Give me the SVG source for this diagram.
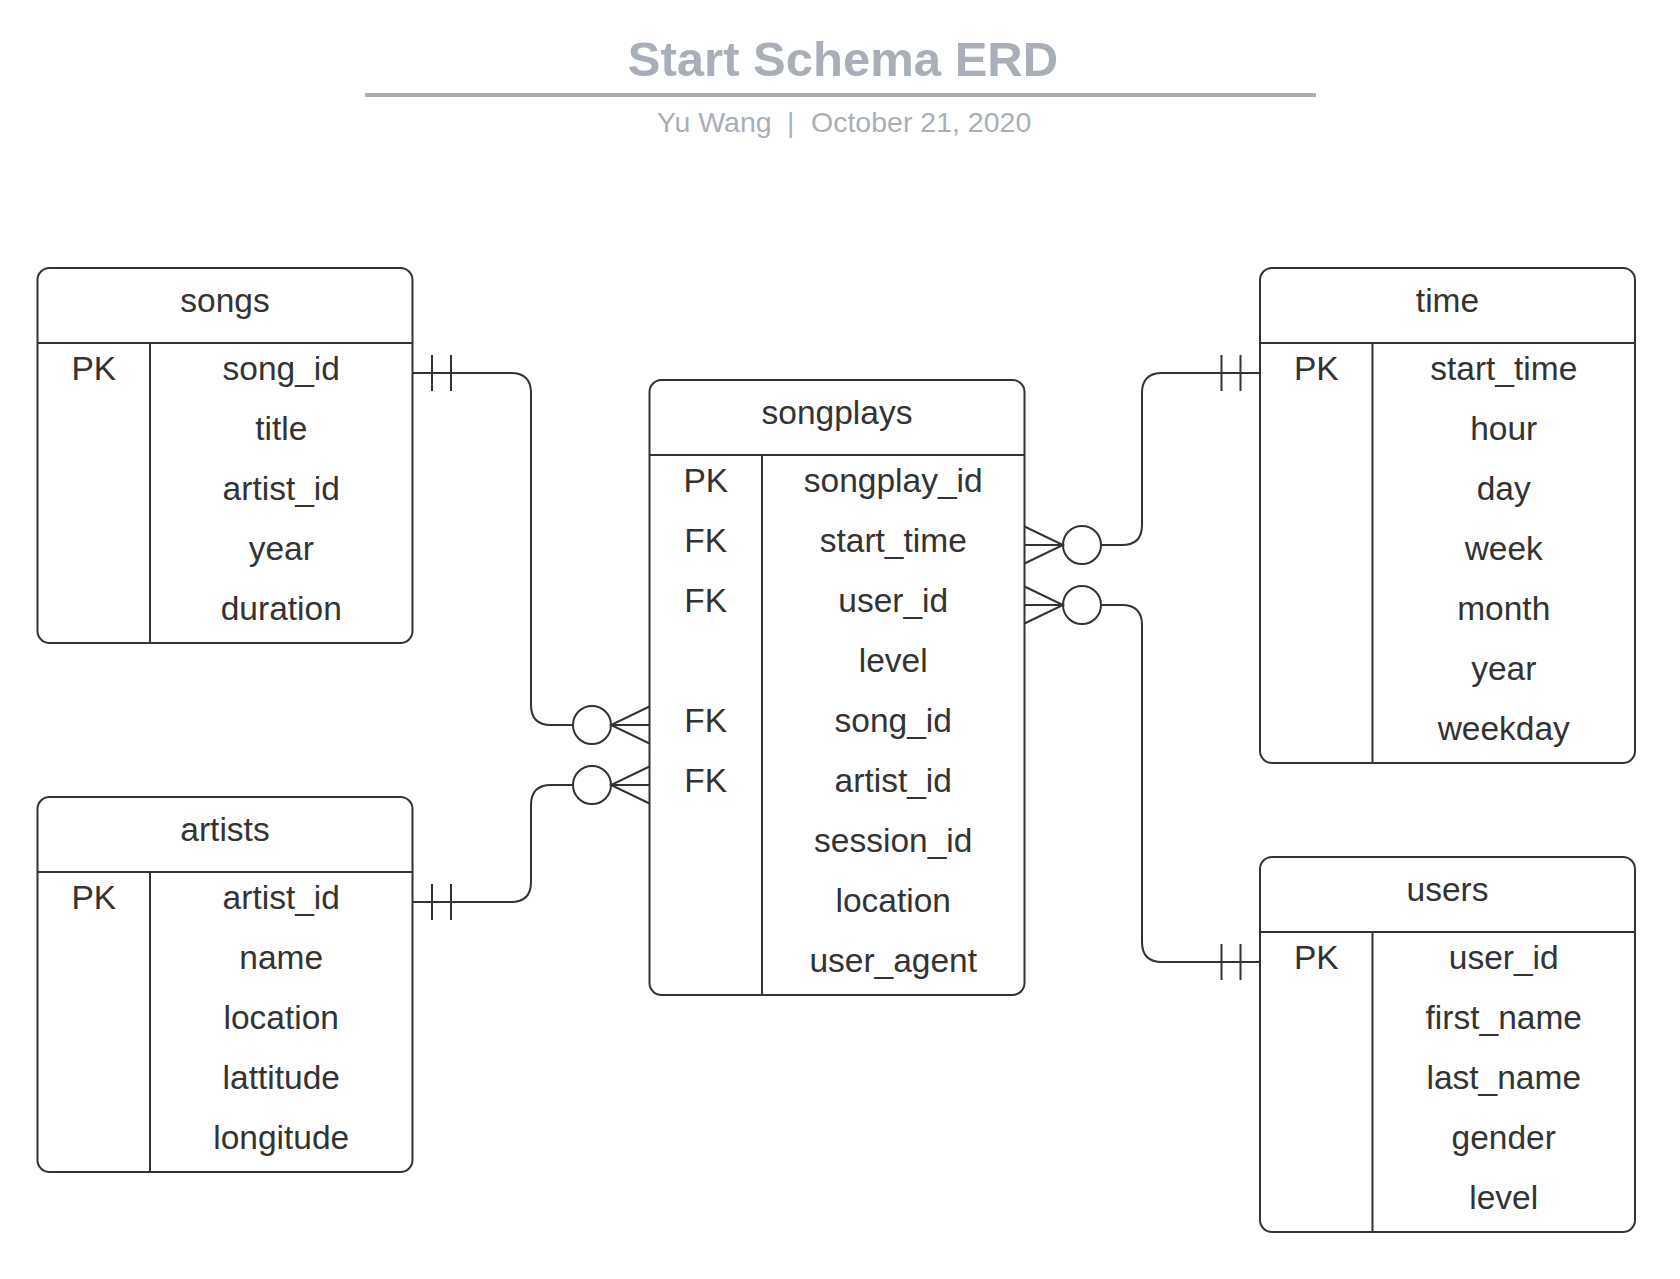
<svg xmlns="http://www.w3.org/2000/svg" width="1680" height="1279" viewBox="0 0 1680 1279">
<style>
.bg{fill:#ffffff}
.box{fill:#ffffff;stroke:#333333;stroke-width:2}
.ln{stroke:#333333;stroke-width:2;fill:none}
.t{font-family:"Liberation Sans",Arial,sans-serif;font-size:33.5px;fill:#333333;text-anchor:middle}
.title{font-family:"Liberation Sans",Arial,sans-serif;font-size:49px;font-weight:bold;fill:#a9afb9;text-anchor:middle}
.sub{font-family:"Liberation Sans",Arial,sans-serif;font-size:28.5px;fill:#a9afb9}
.conn path,.conn line,.conn circle{fill:none;stroke:#333333;stroke-width:2}
.conn circle{fill:#ffffff}
</style>
<rect class="bg" x="0" y="0" width="1680" height="1279"/>

<g id="header">
  <text class="title" x="843" y="76">Start Schema ERD</text>
  <line x1="365" y1="95" x2="1316" y2="95" stroke="#a9afb9" stroke-width="4"/>
  <text class="sub" y="132"><tspan x="657">Yu Wang</tspan><tspan x="787">|</tspan><tspan x="811">October 21, 2020</tspan></text>
</g>

<g class="conn" id="connectors">
  <!-- songs -> songplays -->
  <path d="M412.5,373 H511 Q531,373 531,393 V705 Q531,725 551,725 H573"/>
  <line x1="432" y1="355" x2="432" y2="391"/>
  <line x1="451" y1="355" x2="451" y2="391"/>
  <circle cx="592" cy="725" r="19"/>
  <path d="M649.5,706.5 L611,725 L649.5,743.5 M611,725 H649.5"/>
  <!-- artists -> songplays -->
  <path d="M412.5,902 H511 Q531,902 531,882 V805 Q531,785 551,785 H573"/>
  <line x1="432" y1="884" x2="432" y2="920"/>
  <line x1="451" y1="884" x2="451" y2="920"/>
  <circle cx="592" cy="785" r="19"/>
  <path d="M649.5,766.5 L611,785 L649.5,803.5 M611,785 H649.5"/>
  <!-- time -> songplays -->
  <path d="M1260,373 H1162 Q1142,373 1142,393 V525 Q1142,545 1122,545 H1101"/>
  <line x1="1221.5" y1="355" x2="1221.5" y2="391"/>
  <line x1="1240.5" y1="355" x2="1240.5" y2="391"/>
  <circle cx="1082" cy="545" r="19"/>
  <path d="M1024.5,526.5 L1063,545 L1024.5,563.5 M1063,545 H1024.5"/>
  <!-- users -> songplays -->
  <path d="M1260,962 H1162 Q1142,962 1142,942 V625 Q1142,605 1122,605 H1101"/>
  <line x1="1221.5" y1="944" x2="1221.5" y2="980"/>
  <line x1="1240.5" y1="944" x2="1240.5" y2="980"/>
  <circle cx="1082" cy="605" r="19"/>
  <path d="M1024.5,586.5 L1063,605 L1024.5,623.5 M1063,605 H1024.5"/>
</g>

<g id="songs">
  <rect class="box" x="37.5" y="268" width="375" height="375" rx="12"/>
  <line class="ln" x1="37.5" y1="343" x2="412.5" y2="343"/>
  <line class="ln" x1="150" y1="343" x2="150" y2="643"/>
  <text class="t" x="225" y="312">songs</text>
  <text class="t" x="93.75" y="380">PK</text>
  <text class="t" x="281.25" y="380">song_id</text>
  <text class="t" x="281.25" y="440">title</text>
  <text class="t" x="281.25" y="500">artist_id</text>
  <text class="t" x="281.25" y="560">year</text>
  <text class="t" x="281.25" y="620">duration</text>
</g>

<g id="artists">
  <rect class="box" x="37.5" y="797" width="375" height="375" rx="12"/>
  <line class="ln" x1="37.5" y1="872" x2="412.5" y2="872"/>
  <line class="ln" x1="150" y1="872" x2="150" y2="1172"/>
  <text class="t" x="225" y="841">artists</text>
  <text class="t" x="93.75" y="909">PK</text>
  <text class="t" x="281.25" y="909">artist_id</text>
  <text class="t" x="281.25" y="969">name</text>
  <text class="t" x="281.25" y="1029">location</text>
  <text class="t" x="281.25" y="1089">lattitude</text>
  <text class="t" x="281.25" y="1149">longitude</text>
</g>

<g id="songplays">
  <rect class="box" x="649.5" y="380" width="375" height="615" rx="12"/>
  <line class="ln" x1="649.5" y1="455" x2="1024.5" y2="455"/>
  <line class="ln" x1="762" y1="455" x2="762" y2="995"/>
  <text class="t" x="837" y="424">songplays</text>
  <text class="t" x="705.75" y="492">PK</text>
  <text class="t" x="893.25" y="492">songplay_id</text>
  <text class="t" x="705.75" y="552">FK</text>
  <text class="t" x="893.25" y="552">start_time</text>
  <text class="t" x="705.75" y="612">FK</text>
  <text class="t" x="893.25" y="612">user_id</text>
  <text class="t" x="893.25" y="672">level</text>
  <text class="t" x="705.75" y="732">FK</text>
  <text class="t" x="893.25" y="732">song_id</text>
  <text class="t" x="705.75" y="792">FK</text>
  <text class="t" x="893.25" y="792">artist_id</text>
  <text class="t" x="893.25" y="852">session_id</text>
  <text class="t" x="893.25" y="912">location</text>
  <text class="t" x="893.25" y="972">user_agent</text>
</g>

<g id="time">
  <rect class="box" x="1260" y="268" width="375" height="495" rx="12"/>
  <line class="ln" x1="1260" y1="343" x2="1635" y2="343"/>
  <line class="ln" x1="1372.5" y1="343" x2="1372.5" y2="763"/>
  <text class="t" x="1447.5" y="312">time</text>
  <text class="t" x="1316.25" y="380">PK</text>
  <text class="t" x="1503.75" y="380">start_time</text>
  <text class="t" x="1503.75" y="440">hour</text>
  <text class="t" x="1503.75" y="500">day</text>
  <text class="t" x="1503.75" y="560">week</text>
  <text class="t" x="1503.75" y="620">month</text>
  <text class="t" x="1503.75" y="680">year</text>
  <text class="t" x="1503.75" y="740">weekday</text>
</g>

<g id="users">
  <rect class="box" x="1260" y="857" width="375" height="375" rx="12"/>
  <line class="ln" x1="1260" y1="932" x2="1635" y2="932"/>
  <line class="ln" x1="1372.5" y1="932" x2="1372.5" y2="1232"/>
  <text class="t" x="1447.5" y="901">users</text>
  <text class="t" x="1316.25" y="969">PK</text>
  <text class="t" x="1503.75" y="969">user_id</text>
  <text class="t" x="1503.75" y="1029">first_name</text>
  <text class="t" x="1503.75" y="1089">last_name</text>
  <text class="t" x="1503.75" y="1149">gender</text>
  <text class="t" x="1503.75" y="1209">level</text>
</g>
</svg>
